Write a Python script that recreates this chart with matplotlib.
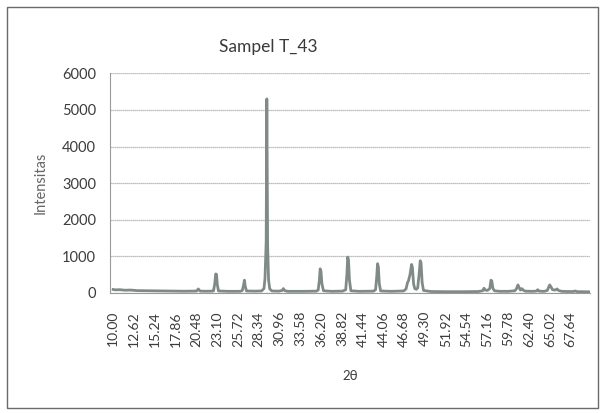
import numpy as np
import matplotlib.pyplot as plt
from matplotlib.patches import Rectangle

plt.rcParams['font.family'] = ['Lato', 'DejaVu Sans']

# 2theta en intensitas
theta = [10.0, 10.3, 10.8, 11.5, 12.2, 13.0, 14.5, 16.0, 17.5, 19.0, 20.3,
         20.5, 20.63, 20.73, 20.83, 20.98, 21.8, 22.5,
         22.65, 22.8, 22.92, 23.02, 23.12, 23.27, 24.5, 25.8, 26.1,
         26.27, 26.42, 26.54, 26.64, 26.8, 27.8, 28.7, 29.0,
         29.13, 29.28, 29.36, 29.46, 29.58, 29.73, 30.0,
         30.9, 31.3, 31.45, 31.6, 32.0, 34.0, 35.6,
         35.83, 35.98, 36.08, 36.18, 36.3, 36.5, 37.5, 38.9,
         39.3, 39.45, 39.55, 39.65, 39.77, 39.95, 41.0, 42.8,
         43.06, 43.21, 43.31, 43.41, 43.53, 43.7, 45.0, 46.6,
         46.9, 47.08, 47.2, 47.4, 47.6, 47.7, 47.85, 48.0, 48.2,
         48.37, 48.55, 48.69, 48.79, 48.93, 49.1,
         50.0, 52.0, 54.0, 56.0,
         56.55, 56.72, 56.87, 57.15, 57.45, 57.6, 57.7, 57.85, 58.05,
         58.7, 59.8, 60.6,
         60.8, 61.0, 61.15, 61.3, 61.5, 61.65, 61.9,
         62.8, 63.3, 63.5, 63.65, 64.3, 64.7,
         64.85, 65.0, 65.15, 65.35, 65.7, 65.93, 66.1, 66.5,
         67.2, 68.0, 68.2, 68.5, 69.2, 70.1]
intensitas = [95, 85, 90, 75, 80, 65, 60, 55, 50, 48, 50,
              52, 80, 110, 80, 50, 48, 50,
              60, 250, 520, 510, 230, 55, 45, 45, 50,
              70, 200, 350, 180, 55, 50, 55, 120,
              400, 1400, 5300, 1300, 350, 110, 55,
              50, 70, 120, 65, 45, 45, 50,
              80, 350, 660, 600, 250, 60, 45, 50,
              90, 500, 980, 900, 350, 60, 45, 50,
              90, 450, 800, 720, 250, 55, 45, 55,
              110, 280, 330, 500, 780, 700, 250, 120, 100,
              140, 520, 880, 820, 280, 70,
              40, 35, 35, 40,
              60, 130, 80, 70, 120, 350, 330, 120, 60,
              45, 45, 60,
              110, 220, 150, 80, 120, 80, 50,
              45, 50, 90, 50, 45, 70,
              150, 220, 170, 90, 80, 110, 70, 45,
              40, 40, 55, 35, 35, 30]

xlabels = ['10.00', '12.62', '15.24', '17.86', '20.48', '23.10', '25.72',
           '28.34', '30.96', '33.58', '36.20', '38.82', '41.44', '44.06',
           '46.68', '49.30', '51.92', '54.54', '57.16', '59.78', '62.40',
           '65.02', '67.64']
yticks = [0, 1000, 2000, 3000, 4000, 5000, 6000]

fig = plt.figure(figsize=(6.01, 4.13), dpi=100)
ax = fig.add_axes([0.183, 0.2906, 0.799, 0.532])

ax.plot(theta, intensitas, color='#808b87', lw=2.0, zorder=3)

ax.set_xlim(9.6, 70.1)
ax.set_ylim(0, 6000)
ax.set_xticks([float(t) for t in xlabels])
ax.set_xticklabels(xlabels, rotation=90, fontsize=10, color='#3c3c3c')
ax.set_yticks(yticks)
ax.set_yticklabels([str(v) for v in yticks], fontsize=10.5, color='#3c3c3c')
ax.tick_params(axis='y', length=0, pad=10)
ax.tick_params(axis='x', length=0, pad=13)

ax.grid(axis='y', color='#ababab', lw=0.9, ls=(0, (1, 0.6)))
for s in ['top', 'right']:
    ax.spines[s].set_visible(False)
ax.spines['left'].set_color('#9a9a9a')
ax.spines['bottom'].set_color('#9a9a9a')

ax.set_ylabel('Intensitas', fontsize=10.5, color='#666666', labelpad=10)
ax.set_xlabel('2θ', fontsize=9.5, color='#3c3c3c', labelpad=17)
fig.text(0.446, 0.885, 'Sampel T_43', fontsize=12.5, color='#3a3a3a', ha='center', va='center')

# rand om de grafiek
fig.patches.append(Rectangle((7 / 601, 5 / 413), 591 / 601, 401 / 413,
                             transform=fig.transFigure, fill=False,
                             edgecolor='#6a6a6a', lw=1.0))

plt.savefig('out.png', dpi=100)
